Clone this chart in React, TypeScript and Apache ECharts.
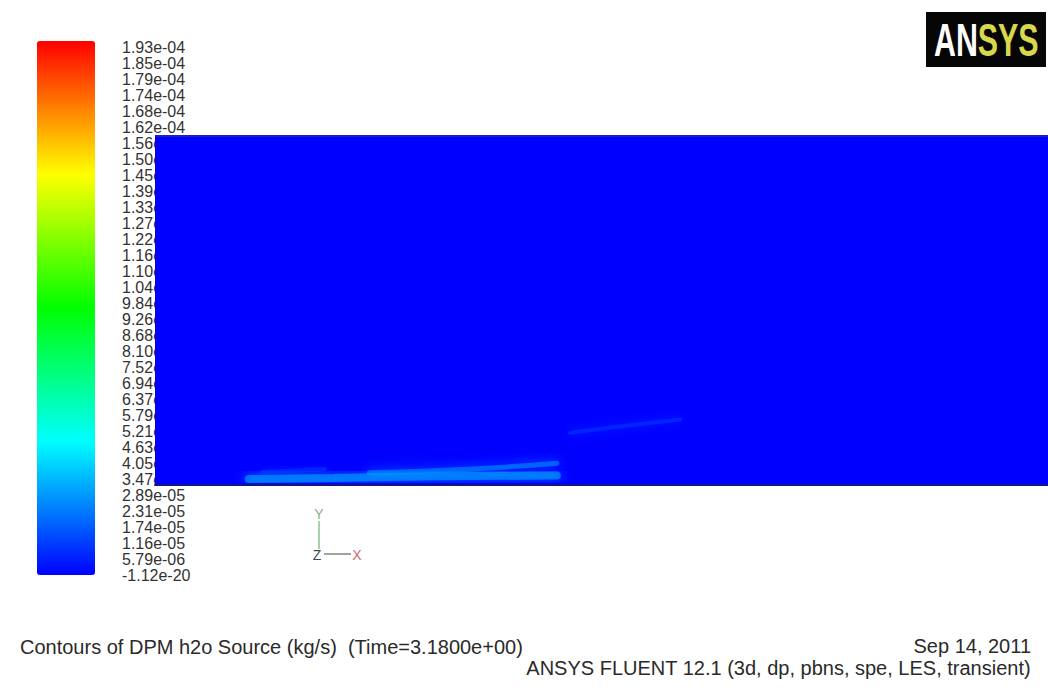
import React, { useEffect, useRef } from "react";
import * as echarts from "echarts";

// Contour level labels (top -> bottom), as printed beside the colour bar
const levelLabels = [
  "1.93e-04", "1.85e-04", "1.79e-04", "1.74e-04", "1.68e-04", "1.62e-04",
  "1.56e-04", "1.50e-04", "1.45e-04", "1.39e-04", "1.33e-04", "1.27e-04",
  "1.22e-04", "1.16e-04", "1.10e-04", "1.04e-04", "9.84e-05", "9.26e-05",
  "8.68e-05", "8.10e-05", "7.52e-05", "6.94e-05", "6.37e-05", "5.79e-05",
  "5.21e-05", "4.63e-05", "4.05e-05", "3.47e-05", "2.89e-05", "2.31e-05",
  "1.74e-05", "1.16e-05", "5.79e-06", "-1.12e-20",
];
const scaleMin = -1.12e-20;
const scaleMax = 1.93e-4;
const rainbow = ["#0000ff", "#00ffff", "#00ff00", "#ffff00", "#ff0000"];

// Domain extent (arbitrary length units)
const domainLength = 100;
const domainHeight = 40;
const domainTopEdge = [[0, 40], [100, 40]];

// DPM source streaks: [x, y] points and the source value of each streak
const streakBottom = [[10.5, 0.7], [20, 0.8], [32, 1.0], [45, 1.1]];
const streakUpper = [[24, 1.4], [35, 1.8], [45, 2.5]];
const streakLeft = [[12, 1.5], [19, 1.8]];
const streakMid = [[46.5, 6.0], [52, 6.7], [58.8, 7.5]];
const streakRight = [[58, 3.8], [65, 3.8]];
const streakValues = [3.4e-5, 3.0e-5, 1.6e-5, 1.5e-5, 1.5e-5];
const streakWidths = [8, 5, 4, 4, 4];
const streakOpacity = [0.55, 0.55, 0.4, 0.4, 0.4];

const FONT = "'Liberation Sans', Arial, Helvetica, sans-serif";

function hexToRgb(h: string) {
  const n = parseInt(h.slice(1), 16);
  return [(n >> 16) & 255, (n >> 8) & 255, n & 255];
}
function colorFor(v: number) {
  const t = Math.max(0, Math.min(1, (v - scaleMin) / (scaleMax - scaleMin)));
  const seg = t * (rainbow.length - 1);
  const i = Math.min(rainbow.length - 2, Math.floor(seg));
  const f = seg - i;
  const a = hexToRgb(rainbow[i]);
  const b = hexToRgb(rainbow[i + 1]);
  const c = a.map((x, k) => Math.round(x + (b[k] - x) * f));
  return `rgb(${c[0]},${c[1]},${c[2]})`;
}

export default function App() {
  const ref = useRef<HTMLDivElement>(null);
  useEffect(() => {
    if (!ref.current) return;
    const chart = echarts.init(ref.current, null, { renderer: "svg" });
    const streaks = [streakBottom, streakUpper, streakLeft, streakMid, streakRight];
    const streakSeries = streaks.map((d, i) => {
      const col = colorFor(streakValues[i]);
      return {
        type: "line",
        xAxisIndex: 0,
        yAxisIndex: 0,
        data: d,
        smooth: true,
        symbol: "none",
        silent: true,
        z: 3,
        lineStyle: {
          color: col,
          width: streakWidths[i],
          opacity: streakOpacity[i],
          cap: "round",
          shadowBlur: 12,
          shadowColor: col,
        },
      };
    });
    const textStyle = {
      fontFamily: FONT,
      fontSize: 20,
      lineHeight: 16,
      fontWeight: "normal",
      color: "#2a2a2a",
    };
    const option: any = {
      animation: false,
      backgroundColor: "#ffffff",
      title: [
        {
          text: "Contours of DPM h2o Source (kg/s)  (Time=3.1800e+00)",
          left: 20,
          top: 639,
          padding: 0,
          textStyle,
        },
        { text: "Sep 14, 2011", right: 17, top: 638, padding: 0, textStyle },
        {
          text: "ANSYS FLUENT 12.1 (3d, dp, pbns, spe, LES, transient)",
          right: 17,
          top: 660,
          padding: 0,
          textStyle,
        },
      ],
      visualMap: {
        type: "continuous",
        min: scaleMin,
        max: scaleMax,
        seriesIndex: [],
        calculable: false,
        left: 37,
        top: 41,
        padding: 0,
        itemWidth: 58,
        itemHeight: 534,
        inRange: { color: rainbow },
      },
      grid: [
        { left: 155, top: 136, right: 0, height: 349, show: false },
        { left: 37, top: 47, width: 58, height: 528, show: false },
      ],
      xAxis: [
        {
          type: "value",
          gridIndex: 0,
          min: 0,
          max: domainLength,
          z: 5,
          axisLine: { show: true, lineStyle: { color: "#14148c", width: 2 } },
          axisTick: { show: false },
          axisLabel: { show: false },
          splitLine: { show: false },
        },
        { type: "value", gridIndex: 1, show: false },
      ],
      yAxis: [
        { type: "value", gridIndex: 0, min: 0, max: domainHeight, show: false },
        {
          type: "category",
          gridIndex: 1,
          position: "right",
          boundaryGap: false,
          data: levelLabels.slice().reverse(),
          axisLine: { show: false },
          axisTick: { show: false },
          splitLine: { show: false },
          axisLabel: {
            interval: 0,
            margin: 27,
            fontFamily: FONT,
            fontSize: 16,
            color: "#333333",
          },
        },
      ],
      series: [
        {
          type: "line",
          xAxisIndex: 0,
          yAxisIndex: 0,
          data: domainTopEdge,
          symbol: "none",
          silent: true,
          z: 2,
          lineStyle: { color: "#1c1cc8", width: 2 },
          areaStyle: { color: "#0000ff", opacity: 1 },
        },
        ...streakSeries,
      ],
      graphic: [
        {
          type: "rect",
          shape: { x: 926, y: 12, width: 120, height: 55 },
          style: { fill: "#060606" },
        },
        {
          type: "text",
          x: 934,
          y: 40,
          scaleX: 0.66,
          style: {
            text: "{a|AN}{b|SYS}",
            verticalAlign: "middle",
            rich: {
              a: { fill: "#ffffff", fontSize: 46, fontWeight: "bold", fontFamily: FONT },
              b: { fill: "#d8d84c", fontSize: 46, fontWeight: "bold", fontFamily: FONT },
            },
          },
        },
        // coordinate triad
        {
          type: "line",
          shape: { x1: 319, y1: 521, x2: 319, y2: 549 },
          style: { stroke: "#8cc08c", lineWidth: 1.5 },
        },
        {
          type: "line",
          shape: { x1: 324, y1: 554, x2: 351, y2: 554 },
          style: { stroke: "#7a8a7a", lineWidth: 1.5 },
        },
        {
          type: "text",
          x: 319,
          y: 514,
          style: { text: "Y", fill: "#7ab87a", fontSize: 14, fontFamily: FONT, align: "center", verticalAlign: "middle" },
        },
        {
          type: "text",
          x: 317,
          y: 555,
          style: { text: "Z", fill: "#404858", fontSize: 14, fontFamily: FONT, align: "center", verticalAlign: "middle" },
        },
        {
          type: "text",
          x: 357,
          y: 555,
          style: { text: "X", fill: "#c86a6a", fontSize: 14, fontFamily: FONT, align: "center", verticalAlign: "middle" },
        },
      ],
    };
    chart.setOption(option);
    return () => chart.dispose();
  }, []);
  return (
    <div
      ref={ref}
      style={{ position: "fixed", left: 0, top: 0, width: 1048, height: 691 }}
    />
  );
}
